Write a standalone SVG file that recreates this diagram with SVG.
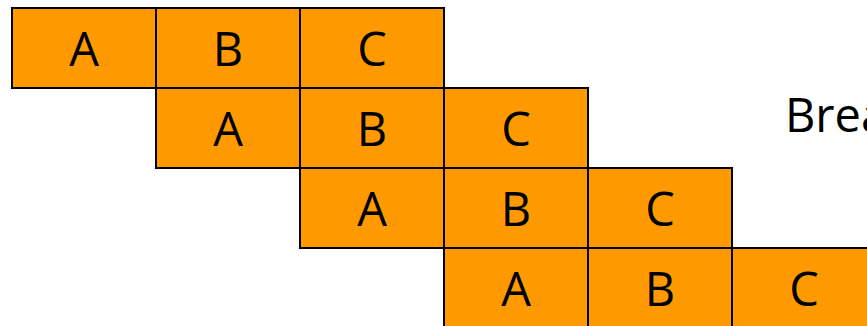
<svg xmlns="http://www.w3.org/2000/svg" width="867" height="326" viewBox="0 0 867 326">
<style>
.cell{fill:#FF9900;stroke:#000;stroke-width:2}
.t{font-family:"Open Sans","Liberation Sans",sans-serif;font-size:47px;fill:#000;text-anchor:middle}
.l{font-family:"Open Sans","Liberation Sans",sans-serif;font-size:47px;fill:#000}
</style>
<rect width="867" height="326" fill="#fff"/>
<g id="row1">
<g id="r1a"><rect class="cell" x="12" y="8" width="144" height="80"/><text class="t" x="84" y="66">A</text></g>
<g id="r1b"><rect class="cell" x="156" y="8" width="144" height="80"/><text class="t" x="228" y="66">B</text></g>
<g id="r1c"><rect class="cell" x="300" y="8" width="144" height="80"/><text class="t" x="372" y="66">C</text></g>
</g>
<g id="row2">
<g id="r2a"><rect class="cell" x="156" y="88" width="144" height="80"/><text class="t" x="228" y="146">A</text></g>
<g id="r2b"><rect class="cell" x="300" y="88" width="144" height="80"/><text class="t" x="372" y="146">B</text></g>
<g id="r2c"><rect class="cell" x="444" y="88" width="144" height="80"/><text class="t" x="516" y="146">C</text></g>
</g>
<g id="row3">
<g id="r3a"><rect class="cell" x="300" y="168" width="144" height="80"/><text class="t" x="372" y="226">A</text></g>
<g id="r3b"><rect class="cell" x="444" y="168" width="144" height="80"/><text class="t" x="516" y="226">B</text></g>
<g id="r3c"><rect class="cell" x="588" y="168" width="144" height="80"/><text class="t" x="660" y="226">C</text></g>
</g>
<g id="row4">
<g id="r4a"><rect class="cell" x="444" y="248" width="144" height="80"/><text class="t" x="516" y="306">A</text></g>
<g id="r4b"><rect class="cell" x="588" y="248" width="144" height="80"/><text class="t" x="660" y="306">B</text></g>
<g id="r4c"><rect class="cell" x="732" y="248" width="144" height="80"/><text class="t" x="804" y="306">C</text></g>
</g>
<g id="label"><text class="l" x="785" y="132">Brea</text></g>
<g id="connectors"/>
</svg>
